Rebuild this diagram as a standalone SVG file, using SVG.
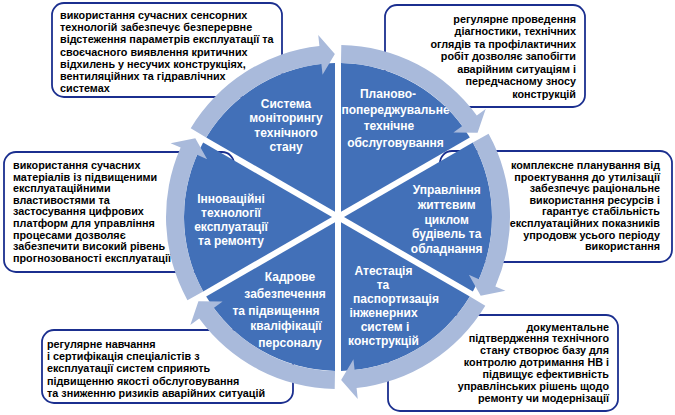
<svg xmlns="http://www.w3.org/2000/svg" xmlns:xlink="http://www.w3.org/1999/xlink" width="675" height="415" viewBox="0 0 675 415">
<defs>
<style>
.box{fill:#ffffff;stroke:#1B2F8F;stroke-width:1.8}
.bt{font-family:"Liberation Sans",Arial,sans-serif;font-weight:bold;font-size:10.8px;fill:#000}
.r{text-anchor:end}
.seg{fill:#4270B8}
.st{font-family:"Liberation Sans",Arial,sans-serif;font-weight:bold;font-size:12px;fill:#ffffff;text-anchor:middle}
.arr{fill:#A9BADB}
</style>
<path id="arrow" d="M190.72,128.16 A172,172 0 0 1 319.42,46.01 L318.24,35.07 L334.87,54.03 L322.56,74.84 L321.37,63.9 A154,154 0 0 0 206.13,137.45 Z"/>
</defs>
<rect width="675" height="415" fill="#ffffff"/>

<g id="box-monitoring">
<rect class="box" x="52" y="3" width="230" height="94" rx="12"/>
<text class="bt" x="60" y="19">використання сучасних сенсорних</text>
<text class="bt" x="60" y="31.2">технологій забезпечує безперервне</text>
<text class="bt" x="60" y="43.4">відстеження параметрів експлуатації та</text>
<text class="bt" x="60" y="55.6">своєчасного виявлення критичних</text>
<text class="bt" x="60" y="67.8">відхилень у несучих конструкціях,</text>
<text class="bt" x="60" y="80">вентиляційних та гідравлічних</text>
<text class="bt" x="60" y="92.2">системах</text>
</g>

<g id="box-maintenance">
<rect class="box" x="385" y="5" width="200" height="102" rx="12"/>
<text class="bt r" x="576" y="23">регулярне проведення</text>
<text class="bt r" x="576" y="35">діагностики, технічних</text>
<text class="bt r" x="576" y="47.5">оглядів та профілактичних</text>
<text class="bt r" x="576" y="60">робіт дозволяє запобігти</text>
<text class="bt r" x="576" y="72.5">аварійним ситуаціям і</text>
<text class="bt r" x="576" y="85">передчасному зносу</text>
<text class="bt r" x="576" y="97.5">конструкцій</text>
</g>

<g id="box-lifecycle">
<rect class="box" x="440" y="151" width="232" height="111" rx="12"/>
<text class="bt r" x="660" y="169">комплексне планування від</text>
<text class="bt r" x="660" y="180.6">проектування до утилізації</text>
<text class="bt r" x="660" y="192.2">забезпечує раціональне</text>
<text class="bt r" x="660" y="203.8">використання ресурсів і</text>
<text class="bt r" x="660" y="215.4">гарантує стабільність</text>
<text class="bt r" x="660" y="227">експлуатаційних показників</text>
<text class="bt r" x="660" y="238.6">упродовж усього періоду</text>
<text class="bt r" x="660" y="250.2">використання</text>
</g>

<g id="box-innovation">
<rect class="box" x="4" y="152" width="230" height="120" rx="12"/>
<text class="bt" x="13" y="169">використання сучасних</text>
<text class="bt" x="13" y="180.6">матеріалів із підвищеними</text>
<text class="bt" x="13" y="192.2">експлуатаційними</text>
<text class="bt" x="13" y="203.8">властивостями та</text>
<text class="bt" x="13" y="215.4">застосування цифрових</text>
<text class="bt" x="13" y="227">платформ для управління</text>
<text class="bt" x="13" y="238.6">процесами дозволяє</text>
<text class="bt" x="13" y="250.2">забезпечити високий рівень</text>
<text class="bt" x="13" y="261.8">прогнозованості експлуатації</text>
</g>

<g id="box-personnel">
<rect class="box" x="42" y="330" width="251" height="73" rx="12"/>
<text class="bt" x="47" y="348">регулярне навчання</text>
<text class="bt" x="47" y="360.2">і сертифікація спеціалістів з</text>
<text class="bt" x="47" y="372.4">експлуатації систем сприяють</text>
<text class="bt" x="47" y="384.6">підвищенню якості обслуговування</text>
<text class="bt" x="47" y="396.8">та зниженню ризиків аварійних ситуацій</text>
</g>

<g id="box-certification">
<rect class="box" x="388" y="315" width="230" height="96" rx="12"/>
<text class="bt r" x="609" y="330.5">документальне</text>
<text class="bt r" x="609" y="342.2">підтвердження технічного</text>
<text class="bt r" x="609" y="353.9">стану створює базу для</text>
<text class="bt r" x="609" y="365.9">контролю дотримання НВ і</text>
<text class="bt r" x="609" y="377.9">підвищує ефективність</text>
<text class="bt r" x="609" y="390">управлінських рішень щодо</text>
<text class="bt r" x="609" y="402">ремонту чи модернізації</text>
</g>

<g id="node-monitoring">
<path class="seg" d="M335,211.8 L206.17,137.4 A154,154 0 0 1 335,63.03 Z"/>
<text class="st" x="286" y="107.5">Система</text>
<text class="st" x="286" y="122">моніторингу</text>
<text class="st" x="286" y="136.5">технічного</text>
<text class="st" x="286" y="151">стану</text>
</g>

<g id="node-maintenance">
<path class="seg" d="M341,211.8 L341,63.03 A154,154 0 0 1 469.83,137.4 Z"/>
<text class="st" x="388" y="97.6">Планово-</text>
<text class="st" x="395.5" y="113.6">попереджувальне</text>
<text class="st" x="389" y="130">технічне</text>
<text class="st" x="395.5" y="146.5">обслуговування</text>
</g>

<g id="node-lifecycle">
<path class="seg" d="M344,217 L472.85,142.62 A154,154 0 0 1 472.85,291.38 Z"/>
<text class="st" x="446.7" y="194.3">Управління</text>
<text class="st" x="446.7" y="209">життєвим</text>
<text class="st" x="446.7" y="223.6">циклом</text>
<text class="st" x="446.7" y="238.3">будівель та</text>
<text class="st" x="446.7" y="252.8">обладнання</text>
</g>

<g id="node-certification">
<path class="seg" d="M341,222.2 L469.83,296.6 A154,154 0 0 1 341,370.97 Z"/>
<text class="st" x="383.5" y="275.3">Атестація</text>
<text class="st" x="383" y="288.8">та</text>
<text class="st" x="396" y="303.3">паспортизація</text>
<text class="st" x="383.5" y="317">інженерних</text>
<text class="st" x="385" y="331">систем і</text>
<text class="st" x="383.5" y="344.5">конструкцій</text>
</g>

<g id="node-personnel">
<path class="seg" d="M335,222.2 L335,370.97 A154,154 0 0 1 206.17,296.6 Z"/>
<text class="st" x="290" y="281">Кадрове</text>
<text class="st" x="285" y="297.8">забезпечення</text>
<text class="st" x="276" y="315.2">та підвищення</text>
<text class="st" x="286" y="330.4">кваліфікації</text>
<text class="st" x="290" y="346.6">персоналу</text>
</g>

<g id="node-innovation">
<path class="seg" d="M332,217 L203.15,291.38 A154,154 0 0 1 203.15,142.62 Z"/>
<text class="st" x="231" y="202.6">Інноваційні</text>
<text class="st" x="231" y="216.8">технології</text>
<text class="st" x="231" y="231">експлуатації</text>
<text class="st" x="231" y="245.3">та ремонту</text>
</g>

<g id="connectors">
<use class="arr" xlink:href="#arrow" href="#arrow"/>
<use class="arr" xlink:href="#arrow" href="#arrow" transform="rotate(60 338 217)"/>
<use class="arr" xlink:href="#arrow" href="#arrow" transform="rotate(120 338 217)"/>
<use class="arr" xlink:href="#arrow" href="#arrow" transform="rotate(180 338 217)"/>
<use class="arr" xlink:href="#arrow" href="#arrow" transform="rotate(240 338 217)"/>
<use class="arr" xlink:href="#arrow" href="#arrow" transform="rotate(300 338 217)"/>
</g>
</svg>
